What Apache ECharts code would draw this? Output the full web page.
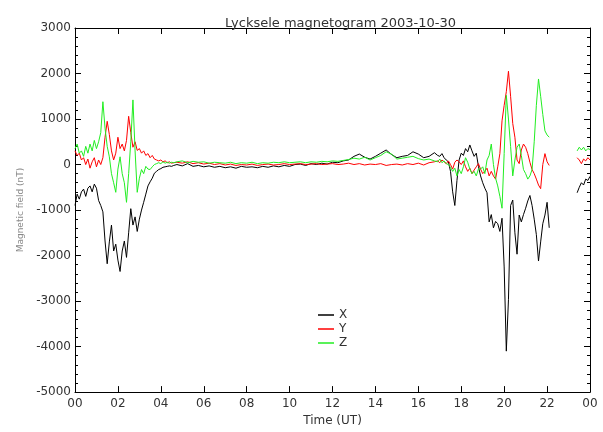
<!DOCTYPE html>
<html>
<head>
<meta charset="utf-8">
<script src="https://cdn.jsdelivr.net/npm/echarts@6/dist/echarts.min.js"></script>
<style>
  html, body { margin: 0; padding: 0; background: #fff; }
  #chart { width: 603px; height: 432px; }
</style>
</head>
<body>
<div id="chart"></div>
<script>
// Sample times (hours UT). null marks the data gap late in the day.
const hours = [
  0.0,0.1,0.2,0.3,0.4,0.5,0.6,0.7,0.8,0.9,
  1.0,1.1,1.2,1.3,1.4,1.5,1.6,1.7,1.8,1.9,
  2.0,2.1,2.2,2.3,2.4,2.5,2.6,2.7,2.8,2.9,
  3.0,3.1,3.2,3.3,3.4,3.5,3.6,3.7,3.8,3.9,
  4.0,4.1,4.2,4.3,4.4,4.5,4.6,
  4.75,5.0,5.25,5.5,5.75,6.0,6.25,6.5,6.75,7.0,7.25,7.5,7.75,8.0,8.25,8.5,8.75,
  9.0,9.25,9.5,9.75,10.0,10.25,10.5,10.75,11.0,11.25,11.5,11.75,12.0,12.25,12.5,12.75,
  13.0,13.25,13.5,13.75,14.0,14.25,14.5,14.75,15.0,15.25,15.5,15.75,16.0,16.25,16.5,16.75,
  16.9,17.0,17.1,17.2,17.3,17.4,17.5,17.6,17.7,17.8,
  17.9,18.0,18.1,18.2,18.3,18.4,18.5,18.6,18.7,18.8,
  18.9,19.0,19.1,19.2,19.3,19.4,19.5,19.6,19.7,19.8,
  19.9,20.0,20.1,20.2,20.3,20.4,20.5,20.6,20.7,20.8,
  20.9,21.0,21.1,21.2,21.3,21.4,21.5,21.6,21.7,21.8,
  21.9,22.0,22.1,
  22.6,
  23.4,23.5,23.6,23.7,23.8,23.9,24.0
];

// X component (nT)
const xComp = [
  -900,-650,-760,-600,-540,-700,-520,-470,-600,-430,
  -520,-790,-900,-1040,-1680,-2180,-1700,-1330,-1900,-1750,
  -2100,-2350,-1900,-1680,-2040,-1500,-970,-1330,-1150,-1470,
  -1200,-1000,-830,-650,-470,-380,-300,-190,-150,-110,
  -90,-60,-50,-40,-30,-40,-20,
  0,-30,20,-40,-20,-50,-30,-60,-40,-70,-50,-80,-40,-60,-50,-70,-40,
  -60,-30,-50,-20,-40,0,10,-20,20,0,30,10,50,40,80,100,
  180,230,160,120,180,250,320,220,150,180,200,280,230,150,180,260,
  200,180,240,150,100,60,-150,-600,-900,-350,
  100,250,200,350,280,430,300,180,250,-40,
  -250,-400,-520,-620,-1260,-1100,-1390,-1250,-1300,-1470,
  -1180,-2250,-4100,-2970,-900,-780,-1500,-1970,-1110,-1260,
  -1100,-960,-800,-680,-900,-1200,-1540,-2120,-1700,-1300,
  -1110,-830,-1390,
  null,
  -620,-500,-400,-450,-320,-350,-260
];

// Y component (nT)
const yComp = [
  300,200,250,100,150,0,120,-80,60,150,
  -50,100,0,150,600,950,660,300,100,250,
  600,350,450,300,530,1060,700,380,500,310,
  350,250,300,200,240,150,200,120,100,80,
  100,60,80,40,60,30,40,
  50,30,60,20,40,10,30,0,20,-10,10,-20,0,-10,10,-20,0,
  10,-10,0,20,0,10,20,0,10,20,0,10,20,0,10,30,
  0,20,-10,10,0,20,-20,0,10,-10,20,0,30,-10,40,60,
  80,40,100,60,20,80,0,-100,50,100,
  60,0,80,-50,-150,-80,-200,-120,-50,20,
  -100,-200,-150,-80,-250,-150,-250,-320,-50,240,
  960,1300,1600,2050,1500,900,600,100,20,320,
  450,380,240,50,-110,-200,-320,-450,-530,0,
  240,60,-20,
  null,
  150,100,20,120,80,150,100
];

// Z component (nT)
const zComp = [
  350,450,250,300,180,400,250,450,300,530,
  350,500,700,1380,800,400,170,-200,-400,-610,
  -100,170,-200,-400,-830,-200,500,1420,300,-610,
  -300,-110,-200,-40,-100,-110,-50,0,20,40,
  20,60,30,50,30,50,40,
  60,80,40,70,50,60,30,50,40,30,50,20,40,30,50,20,40,
  30,50,40,60,40,50,60,40,60,50,70,60,80,70,90,110,
  140,120,160,100,150,200,280,230,120,140,160,180,130,100,120,80,
  60,120,40,80,20,0,-60,-150,-80,-250,
  -110,-200,-50,150,50,-100,-200,-150,-250,-100,
  -100,-50,-200,100,200,450,0,-300,-470,-700,
  -960,240,1520,1000,400,-250,100,380,450,200,
  -110,-200,-320,-250,-110,500,1300,1880,1500,1100,
  740,650,600,
  null,
  300,380,320,380,300,350,330
];

const seriesNames = ['X', 'Y', 'Z'];
const hourLabels = ['00','02','04','06','08','10','12','14','16','18','20','22','00'];
const titleText = 'Lycksele magnetogram 2003-10-30';

const FONT = 'DejaVu Sans';
const INK = '#000';
const TEXT = '#333';

function pairs(values) {
  return hours.map((h, i) => [h, values[i] === null ? '-' : values[i]]);
}

const frameLine = { show: true, onZero: false, lineStyle: { color: INK, width: 1 } };

const chart = echarts.init(document.getElementById('chart'), null, { renderer: 'canvas' });
chart.setOption({
  animation: false,
  backgroundColor: '#fff',
  title: {
    text: titleText,
    left: 220,
    top: 12,
    textStyle: { fontFamily: FONT, fontSize: 13, fontWeight: 'normal', color: TEXT }
  },
  grid: { left: 75, right: 13, top: 28, bottom: 30 },
  legend: {
    data: seriesNames,
    orient: 'vertical',
    left: 313,
    top: 304,
    icon: 'rect',
    itemWidth: 16,
    itemHeight: 1.5,
    itemGap: 2,
    textStyle: { fontFamily: FONT, fontSize: 12, color: TEXT, lineHeight: 12 }
  },
  xAxis: [
    {
      type: 'value', position: 'bottom', min: 0, max: 24, interval: 2,
      axisLine: frameLine,
      axisTick: { inside: true, length: 6, lineStyle: { color: INK } },
      axisLabel: {
        fontFamily: FONT, fontSize: 12, color: TEXT, margin: 6,
        formatter: v => hourLabels[Math.round(v / 2)]
      },
      splitLine: { show: false },
      name: 'Time (UT)', nameLocation: 'middle', nameGap: 16,
      nameTextStyle: { fontFamily: FONT, fontSize: 12, color: TEXT }
    },
    {
      type: 'value', position: 'top', min: 0, max: 24, interval: 2,
      axisLine: frameLine,
      axisTick: { inside: true, length: 6, lineStyle: { color: INK } },
      axisLabel: { show: false },
      splitLine: { show: false }
    }
  ],
  yAxis: [
    {
      type: 'value', position: 'left', min: -5000, max: 3000, interval: 1000,
      axisLine: frameLine,
      axisTick: { inside: true, length: 6, lineStyle: { color: INK } },
      minorTick: { show: true, splitNumber: 5, length: 3, lineStyle: { color: INK } },
      axisLabel: {
        fontFamily: FONT, fontSize: 12, color: TEXT, margin: 4,
        formatter: v => String(v)
      },
      splitLine: { show: false },
      minorSplitLine: { show: false },
      name: 'Magnetic field (nT)', nameLocation: 'middle', nameRotate: 90, nameGap: 50,
      nameTextStyle: { fontFamily: FONT, fontSize: 9, color: '#888' }
    },
    {
      type: 'value', position: 'right', min: -5000, max: 3000, interval: 1000,
      axisLine: frameLine,
      axisTick: { inside: true, length: 6, lineStyle: { color: INK } },
      minorTick: { show: true, splitNumber: 5, length: 3, lineStyle: { color: INK } },
      axisLabel: { show: false },
      splitLine: { show: false },
      minorSplitLine: { show: false }
    }
  ],
  series: [
    { name: 'X', type: 'line', data: pairs(xComp), showSymbol: false, symbol: 'none',
      lineStyle: { color: '#000', width: 1 }, itemStyle: { color: '#000' } },
    { name: 'Y', type: 'line', data: pairs(yComp), showSymbol: false, symbol: 'none',
      lineStyle: { color: '#ff0000', width: 1 }, itemStyle: { color: '#ff0000' } },
    { name: 'Z', type: 'line', data: pairs(zComp), showSymbol: false, symbol: 'none',
      lineStyle: { color: '#22ee22', width: 1 }, itemStyle: { color: '#22ee22' } }
  ]
});
</script>
</body>
</html>
